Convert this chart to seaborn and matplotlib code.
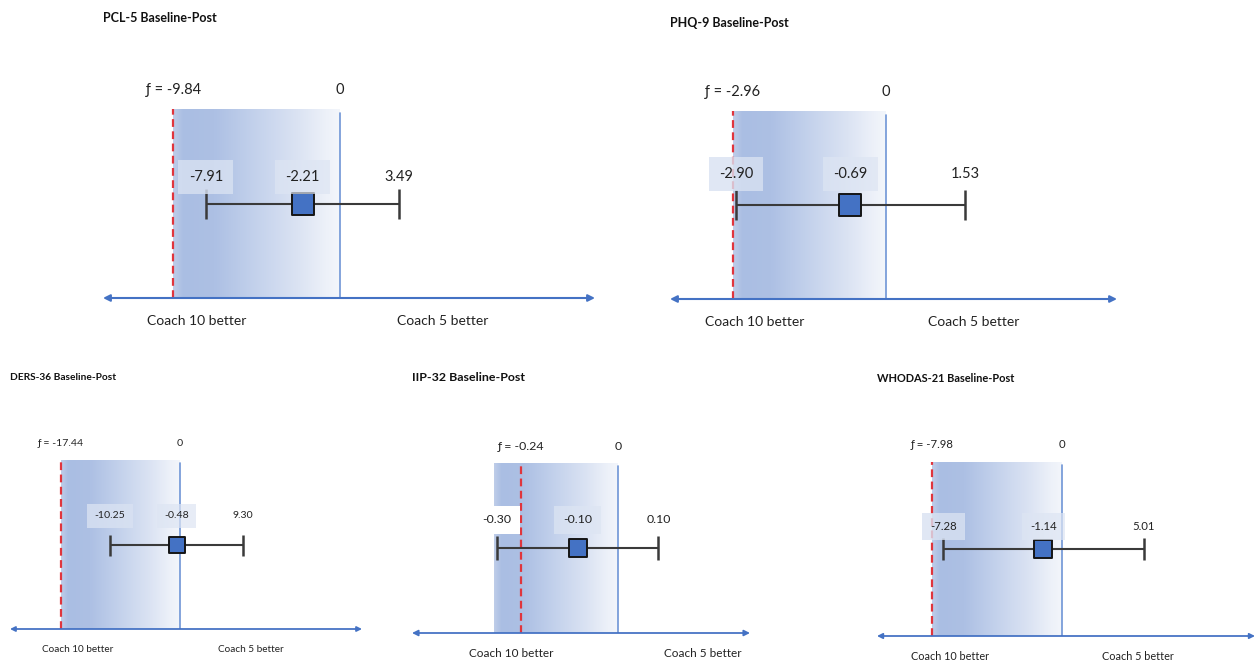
import numpy as np
import matplotlib
matplotlib.use("Agg")
import matplotlib.pyplot as plt
import seaborn as sns
import pandas as pd
from matplotlib.colors import LinearSegmentedColormap

# ---------------- data ----------------
titles = ["PCL-5 Baseline-Post", "PHQ-9 Baseline-Post", "DERS-36 Baseline-Post",
          "IIP-32 Baseline-Post", "WHODAS-21 Baseline-Post"]
margins = [-9.84, -2.96, -17.44, -0.24, -7.98]
lower = [-7.91, -2.90, -10.25, -0.30, -7.28]
point = [-2.21, -0.69, -0.48, -0.10, -1.14]
upper = [3.49, 1.53, 9.30, 0.10, 5.01]
left_label = "Coach 10 better"
right_label = "Coach 5 better"

# ---------------- layout / style ----------------
W, H = 1258, 661
# left px, right px, shade top px, arrow y px
panel_px = [(103, 595, 109, 298), (670, 1117, 111, 299), (10, 362, 460, 629),
            (412, 750, 463, 633), (877, 1255, 462, 636)]
xlims = [(-13.97, 15.03), (-4.18, 4.47), (-24.9, 26.7), (-0.510, 0.327), (-11.36, 11.85)]
fscale = [1.0, 1.0, 0.72, 0.85, 0.78]
title_fs = [9, 9, 7.25, 8.9, 7.9]
title_y = [1.48, 1.47, 1.49, 1.50, 1.48]
label_y = [0.64, 0.665, 0.67, 0.665, 0.63]
coach_x = [(0.19, 0.69), (0.19, 0.68), (0.193, 0.685), (0.293, 0.86), (0.193, 0.69)]
lower_box = ["#d9e2f2", "#d9e2f2", "#d9e2f2", "white", "#d9e2f2"]

sns.set_theme(style="white")
plt.rcParams["font.family"] = ["Lato", "DejaVu Sans"]

cmap = LinearSegmentedColormap.from_list("shade", [
    (0.0, "#bfcde9"), (0.06, "#aabee3"), (0.25, "#adc0e4"), (0.5, "#c4d2ec"),
    (0.75, "#dbe3f3"), (0.92, "#edf1f9"), (1.0, "#f3f6fb")])
grad = np.linspace(0, 1, 256).reshape(1, -1)

fig = plt.figure(figsize=(W / 100, H / 100), dpi=100)
fig.patch.set_facecolor("white")

TXT = "#222222"
BLUE = "#4472c4"

for i in range(5):
    l, r, top, ay = panel_px[i]
    ax = fig.add_axes([l / W, 1 - ay / H, (r - l) / W, (ay - top) / H])
    ax.set_axis_off()
    s = fscale[i]
    m, lo, p, hi = margins[i], lower[i], point[i], upper[i]

    # shaded equivalence region
    shade_lo = min(m, lo * 1.02)
    ax.imshow(grad, extent=[shade_lo, 0, 0, 1], aspect="auto", cmap=cmap,
              zorder=0, interpolation="bicubic")
    # margin line and zero line
    ax.plot([m, m], [0, 1.0], ls=(0, (3.5, 2)), color="#e0353d", lw=1.6, zorder=2)
    ax.plot([0, 0], [0, 0.98], color="#6f95d6", lw=1.2, zorder=2)

    # CI whiskers
    ax.errorbar(x=[p], y=[0.5], xerr=[[p - lo], [hi - p]], fmt="none",
                ecolor="#3a3a3a", elinewidth=1.5, capsize=10.5 * s, capthick=1.8, zorder=3)
    df = pd.DataFrame({"x": [p], "y": [0.5]})
    sns.scatterplot(data=df, x="x", y="y", marker="s", s=(16 * s) ** 2, color=BLUE,
                    edgecolor="#151515", linewidth=1.4, zorder=4, ax=ax, legend=False)

    # value labels
    fs = 10.5 * s
    ax.text(lo, label_y[i], f"{lo:.2f}", ha="center", va="center", fontsize=fs, color=TXT,
            zorder=5, bbox=dict(boxstyle="square,pad=0.7", fc=lower_box[i], ec="none",
                                alpha=0.8 if lower_box[i] != "white" else 1.0))
    ax.text(p, label_y[i], f"{p:.2f}", ha="center", va="center", fontsize=fs, color=TXT,
            zorder=5, bbox=dict(boxstyle="square,pad=0.7", fc="#dde5f3", ec="none", alpha=0.7))
    ax.text(hi, label_y[i], f"{hi:.2f}", ha="center", va="center", fontsize=fs, color=TXT, zorder=5)

    ax.text(m, 1.10, f"ƒ = {m:.2f}", ha="center", va="center", fontsize=fs, color=TXT)
    ax.text(0, 1.10, "0", ha="center", va="center", fontsize=fs, color=TXT)

    # axis arrow
    ax.annotate("", xy=(0, 0), xytext=(1, 0), xycoords="axes fraction",
                textcoords="axes fraction", annotation_clip=False,
                arrowprops=dict(arrowstyle="<|-|>", color=BLUE, lw=1.5 * max(s, 0.85),
                                mutation_scale=10 * s, shrinkA=0, shrinkB=0))
    ax.text(coach_x[i][0], -0.12, left_label, transform=ax.transAxes, ha="center",
            va="center", fontsize=10 * s, color=TXT)
    ax.text(coach_x[i][1], -0.12, right_label, transform=ax.transAxes, ha="center",
            va="center", fontsize=10 * s, color=TXT)

    ax.text(0, title_y[i], titles[i], transform=ax.transAxes, ha="left", va="center",
            fontsize=title_fs[i], fontweight="bold", color="#111111")

    ax.set_xlim(*xlims[i])
    ax.set_ylim(0, 1)

fig.savefig("out.png", dpi=100, facecolor="white")
